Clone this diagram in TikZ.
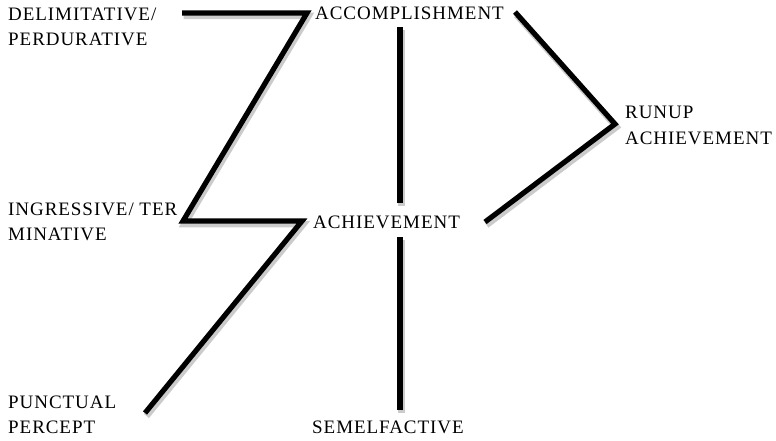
\documentclass[tikz,border=0pt]{standalone}
\usepackage{fontspec}
\setmainfont{Liberation Serif}[LetterSpace=5]

\begin{document}
\begin{tikzpicture}[x=1pt,y=-1pt,
  every node/.style={font=\fontsize{19}{25}\selectfont, inner sep=0pt, anchor=base west, align=left},
  bar/.style={line width=5.2pt, preaction={draw=black!45, line width=6.5pt, opacity=.45, transform canvas={shift={(1.5,3)}}}}]
\useasboundingbox (0,0) rectangle (776,441);

% labels (base = last line)
\node[] (delim) at (8,46) {DELIMITATIVE/\\PERDURATIVE};
\node[] (accomp) at (315,20) {ACCOMPLISHMENT};
\node[] (runup) at (625,144) {RUNUP\\ACHIEVEMENT};
\node[] (ingress) at (8,240) {INGRESSIVE/ TER\\MINATIVE};
\node[] (achieve) at (313,228) {ACHIEVEMENT};
\node[] (punct) at (8,433) {PUNCTUAL\\PERCEPT};
\node[] (semel) at (312,433) {SEMELFACTIVE};

% line ends
\coordinate (delE) at (182,13);
\coordinate (accW) at (307,13);
\coordinate (ingE) at (183,221);
\coordinate (achW) at (302,221);
\coordinate (punE) at (145,413);
\coordinate (accS) at (400,27);
\coordinate (achN) at (400,203);
\coordinate (achS) at (400,237);
\coordinate (semN) at (400,410);
\coordinate (accE) at (515,12);
\coordinate (runW) at (615,124);
\coordinate (achE) at (485,222);

% connectors
\draw[bar] (delE) -- (accW) -- (ingE) -- (achW) -- (punE);
\draw[bar] (accS) -- (achN);
\draw[bar] (achS) -- (semN);
\draw[bar] (accE) -- (runW) -- (achE);

\end{tikzpicture}
\end{document}
